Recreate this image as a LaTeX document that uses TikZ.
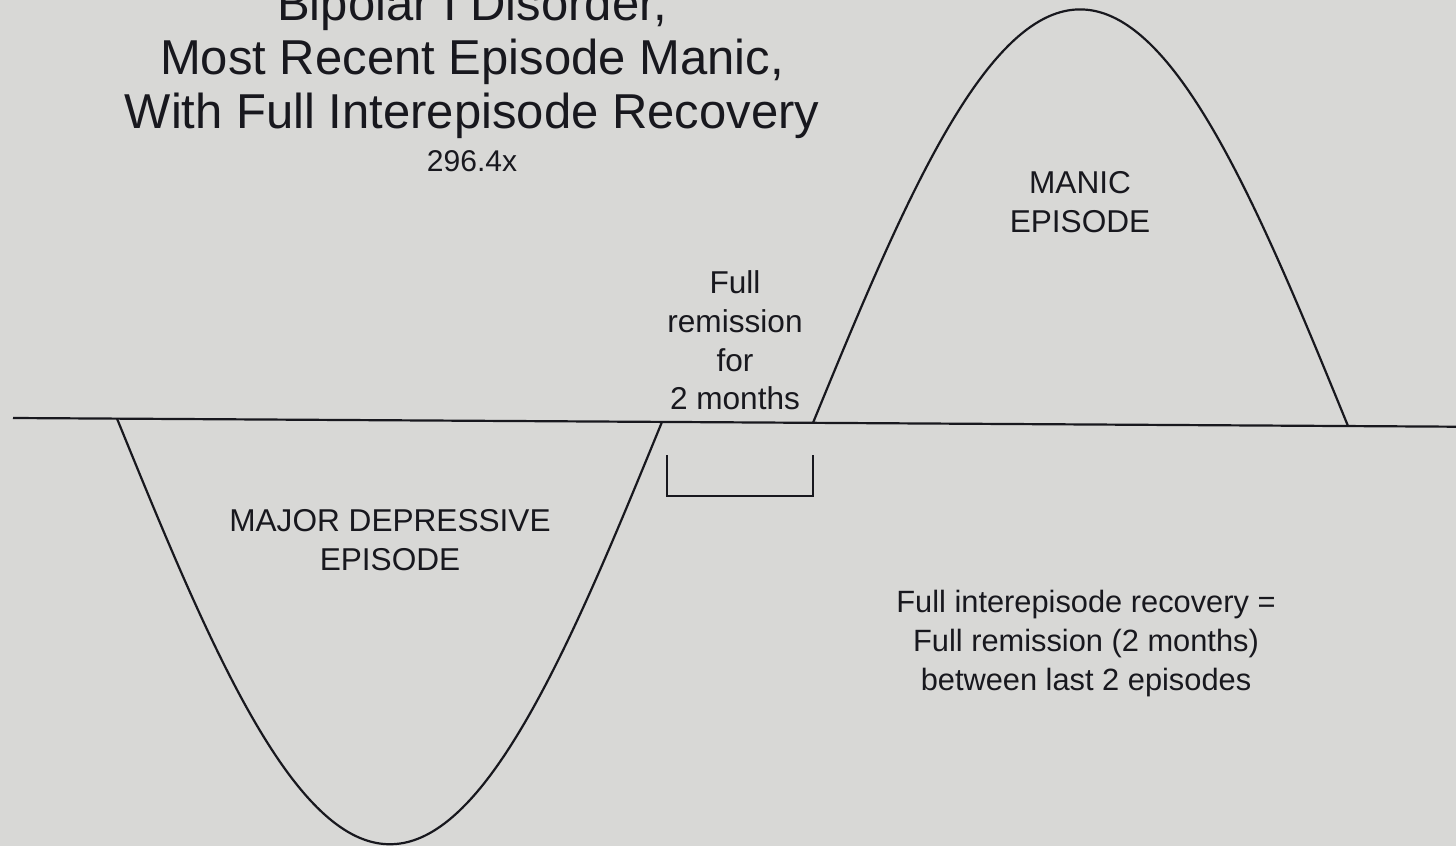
\documentclass[tikz,border=0pt]{standalone}
\usepackage{fontspec}
\setmainfont{Liberation Sans}
\definecolor{bg}{RGB}{216,216,214}
\definecolor{ink}{RGB}{24,24,30}
\begin{document}
\begin{tikzpicture}[x=0.5pt,y=-0.5pt,
  line/.style={draw=ink,line width=1.1pt},
  lbl/.style={text=ink,inner sep=0pt,align=center,font=\fontsize{15.8}{19.4}\selectfont},
  ttl/.style={text=ink,inner sep=0pt,align=center,font=\fontsize{24.5}{27}\selectfont}]
\fill[bg] (0,0) rectangle (1456,846);
\useasboundingbox (0,0) rectangle (1456,846);
% axis
\coordinate (axL) at (13,418);
\coordinate (axR) at (1456,426.7);
\draw[line] (axL) -- (axR);
% depressive episode
\coordinate (dS) at (117,418.6);
\coordinate (dE) at (662,421.9);
\draw[line] plot[domain=0:1,samples=91,smooth,variable=\u]
  ({117+545*\u},{418.6+3.3*\u+424*sin(180*\u)});
% manic episode
\coordinate (mS) at (813,422.8);
\coordinate (mE) at (1348,426);
\draw[line] plot[domain=0:1,samples=91,smooth,variable=\u]
  ({813+535*\u},{422.8+3.2*\u-415*sin(180*\u)});
% bracket
\coordinate (bA) at (667,455);
\coordinate (bB) at (667,496);
\coordinate (bC) at (813,496);
\coordinate (bD) at (813,455);
\draw[line,line width=1pt] (bA) -- (bB) -- (bC) -- (bD);
% texts
\node[ttl] (title) at (472,61.5) {Bipolar I Disorder,\\Most Recent Episode Manic,\\With Full Interepisode Recovery};
\node[text=ink,inner sep=0pt,anchor=base,font=\fontsize{15}{18}\selectfont] (code) at (472,171) {296.4x};
\node[lbl] (manic) at (1080,202.5) {MANIC\\EPISODE};
\node[lbl] (remit) at (735,340.5) {Full\\remission\\for\\2 months};
\node[lbl] (dep) at (390,540.5) {MAJOR DEPRESSIVE\\EPISODE};
\node[lbl,font=\fontsize{15.4}{19.35}\selectfont] (note) at (1086,643.7) {Full interepisode recovery =\\Full remission (2 months)\\between last 2 episodes};
\end{tikzpicture}
\end{document}
